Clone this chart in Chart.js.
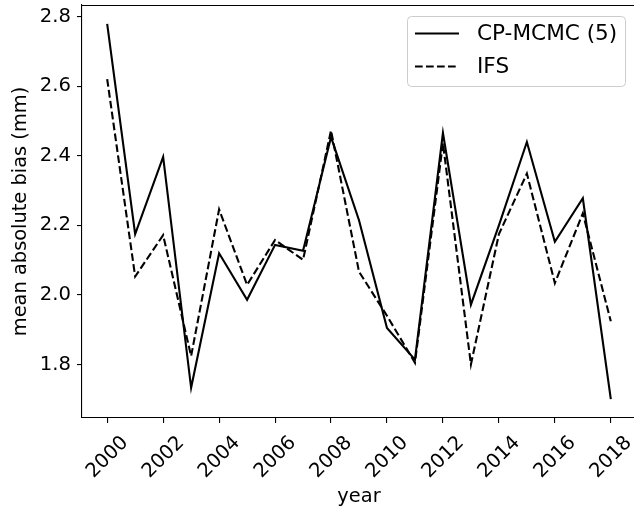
<!DOCTYPE html>
<html>
<head>
<meta charset="utf-8">
<script src="https://cdn.jsdelivr.net/npm/chart.js@4/dist/chart.umd.min.js"></script>
<style>
  html, body { margin: 0; padding: 0; background: #fff; overflow: hidden; width: 634px; height: 512px; }
  canvas { display: block; }
</style>
</head>
<body>
<canvas id="c" width="640" height="512"></canvas>
<script>
// Yearly mean absolute bias (mm)
const years = [2000, 2001, 2002, 2003, 2004, 2005, 2006, 2007, 2008, 2009,
               2010, 2011, 2012, 2013, 2014, 2015, 2016, 2017, 2018];
const cpMcmc = [2.780, 2.175, 2.397, 1.733, 2.120, 1.986, 2.144, 2.127, 2.454, 2.215,
                1.905, 1.814, 2.466, 1.972, 2.200, 2.440, 2.153, 2.278, 1.700];
const ifs    = [2.621, 2.053, 2.172, 1.824, 2.246, 2.029, 2.158, 2.101, 2.473, 2.067,
                1.940, 1.805, 2.437, 1.800, 2.175, 2.349, 2.034, 2.235, 1.924];
const seriesNames = ['CP-MCMC (5)', 'IFS'];
const xTicks = [2000, 2002, 2004, 2006, 2008, 2010, 2012, 2014, 2016, 2018];
const yTicks = [1.8, 2.0, 2.2, 2.4, 2.6, 2.8];

const FONT = 'DejaVu Sans';
const tickFont = { family: FONT, size: 19.6 };

const toPoints = vals => years.map((yr, i) => ({ x: yr, y: vals[i] }));

// frame line along the top of the plot area
const topSpine = {
  id: 'topSpine',
  afterDraw(chart) {
    const { ctx, chartArea: a } = chart;
    ctx.save();
    ctx.strokeStyle = '#000';
    ctx.lineWidth = 1.1;
    ctx.beginPath();
    ctx.moveTo(a.left, a.top + 0.5);
    ctx.lineTo(a.right, a.top + 0.5);
    ctx.stroke();
    ctx.restore();
  }
};

// centred 45-degree year labels under the x axis
const yearLabels = {
  id: 'yearLabels',
  afterDraw(chart) {
    const { ctx } = chart;
    const sx = chart.scales.x;
    ctx.save();
    ctx.fillStyle = '#000';
    ctx.font = `${tickFont.size}px "${FONT}"`;
    ctx.textAlign = 'center';
    ctx.textBaseline = 'alphabetic';
    xTicks.forEach(v => {
      const px = sx.getPixelForValue(v);
      ctx.save();
      ctx.translate(px - 1, sx.top + 38);
      ctx.rotate(-Math.PI / 4);
      ctx.fillText(String(v), 0, 7);
      ctx.restore();
    });
    ctx.restore();
  }
};

// boxed legend in the upper right corner
const boxLegend = {
  id: 'boxLegend',
  afterDraw(chart) {
    const { ctx, chartArea: a } = chart;
    const fs = 21.6;
    const w = 218, h = 70;
    const x0 = a.right - 11 - w, y0 = a.top + 11;
    ctx.save();
    ctx.beginPath();
    ctx.roundRect(x0 + 0.5, y0 + 0.5, w, h, 4);
    ctx.fillStyle = 'rgba(255,255,255,0.8)';
    ctx.fill();
    ctx.strokeStyle = '#cccccc';
    ctx.lineWidth = 1;
    ctx.stroke();
    ctx.font = `${fs}px "${FONT}"`;
    ctx.textBaseline = 'middle';
    ctx.textAlign = 'left';
    ctx.fillStyle = '#000';
    chart.data.datasets.forEach((ds, i) => {
      const y = y0 + 17.5 + i * 33;
      ctx.beginPath();
      ctx.setLineDash(ds.borderDash || []);
      ctx.lineWidth = ds.borderWidth;
      ctx.strokeStyle = ds.borderColor;
      ctx.moveTo(x0 + 8, y);
      ctx.lineTo(x0 + 52, y);
      ctx.stroke();
      ctx.setLineDash([]);
      ctx.fillText(ds.label, x0 + 70, y + 1);
    });
    ctx.restore();
  }
};

new Chart(document.getElementById('c'), {
  type: 'line',
  data: {
    datasets: [
      {
        label: seriesNames[0],
        data: toPoints(cpMcmc),
        borderColor: '#000',
        borderWidth: 2.1,
        pointRadius: 0,
        tension: 0,
        fill: false
      },
      {
        label: seriesNames[1],
        data: toPoints(ifs),
        borderColor: '#000',
        borderWidth: 2.1,
        borderDash: [7.7, 3.3],
        pointRadius: 0,
        tension: 0,
        fill: false
      }
    ]
  },
  options: {
    responsive: false,
    animation: false,
    devicePixelRatio: 1,
    layout: { padding: { top: 5, right: 4, left: 0, bottom: 0 } },
    plugins: {
      legend: { display: false },
      tooltip: { enabled: false }
    },
    scales: {
      x: {
        type: 'linear',
        min: 1999.1,
        max: 2018.9,
        afterBuildTicks: s => { s.ticks = xTicks.map(v => ({ value: v })); },
        afterFit: s => { s.height = 94; s.paddingLeft = 0; s.paddingRight = 0; },
        ticks: { display: false },
        grid: { display: true, drawOnChartArea: false, drawTicks: true, tickLength: 5, color: '#000', lineWidth: 1.1 },
        border: { display: true, color: '#000', width: 1.1 },
        title: {
          display: true,
          text: 'year',
          color: '#000',
          font: { family: FONT, size: 19.4, lineHeight: 1.2 },
          padding: { top: 0, bottom: 3 }
        }
      },
      y: {
        type: 'linear',
        min: 1.646,
        max: 2.834,
        afterBuildTicks: s => { s.ticks = yTicks.map(v => ({ value: v })); },
        afterFit: s => { s.width = 82; s.paddingTop = 0; s.paddingBottom = 0; },
        ticks: {
          color: '#000',
          font: tickFont,
          padding: 6,
          callback: v => v.toFixed(1)
        },
        grid: { display: true, drawOnChartArea: false, drawTicks: true, tickLength: 5, color: '#000', lineWidth: 1.1 },
        border: { display: true, color: '#000', width: 1.1 },
        title: {
          display: true,
          text: 'mean absolute bias (mm)',
          color: '#000',
          font: { family: FONT, size: 19.4, lineHeight: 1.2 },
          padding: { top: 9, bottom: 0 }
        }
      }
    }
  },
  plugins: [topSpine, yearLabels, boxLegend]
});
</script>
</body>
</html>
